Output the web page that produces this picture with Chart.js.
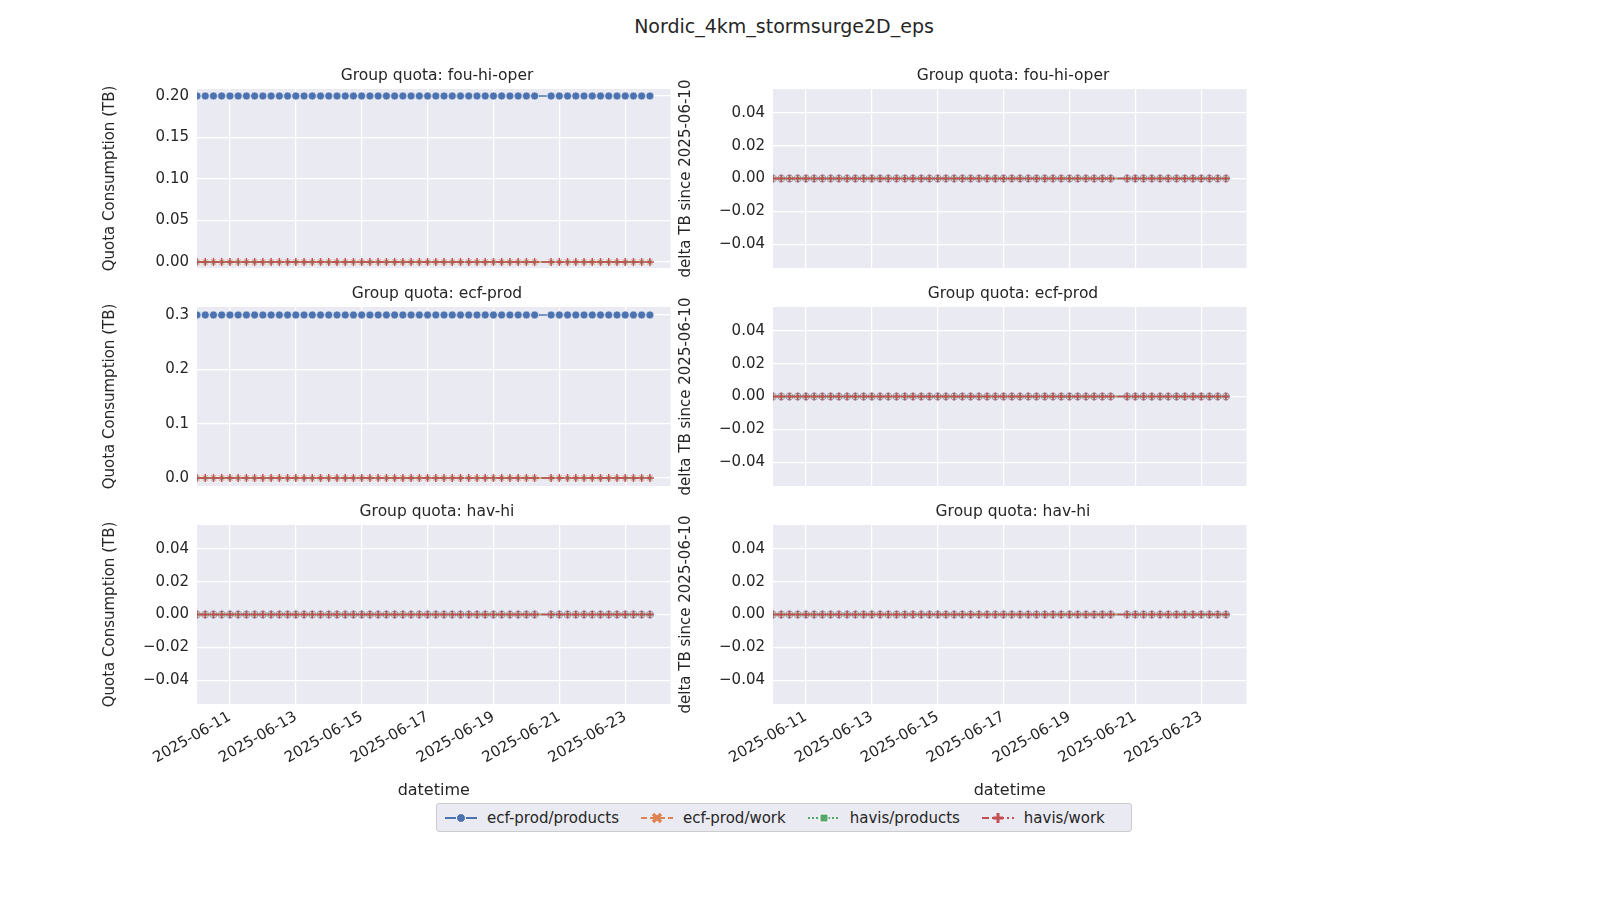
<!DOCTYPE html>
<html><head><meta charset="utf-8">
<script src="https://cdn.jsdelivr.net/npm/chart.js@4"></script>
<style>
html,body{margin:0;width:1600px;height:900px;overflow:hidden}
body{background:#fff;font-family:"DejaVu Sans",sans-serif;color:#262626;position:relative}
canvas{position:absolute}
.t{position:absolute;font-size:15.5px;text-align:center;width:480px;white-space:nowrap}
#main{position:absolute;top:15px;left:0;width:1568px;text-align:center;font-size:19px}
#leg{position:absolute;left:436px;top:803px;width:694px;height:27px;border:1px solid #ccc;border-radius:3px;background:#EAEAF2;display:flex;align-items:center;font-size:15px;white-space:nowrap}
#leg span{display:flex;align-items:center;margin-left:8px;margin-right:14px}
#leg svg{margin-right:10px}
</style></head><body>
<div id="main">Nordic_4km_stormsurge2D_eps</div>
<div id="leg">
<span><svg width="32" height="14"><line x1="0" y1="7" x2="32" y2="7" stroke="#4C72B0" stroke-width="2"/><circle cx="16" cy="7" r="4.5" fill="#4C72B0" stroke="#fff"/></svg>ecf-prod/products</span>
<span><svg width="32" height="14"><line x1="0" y1="7" x2="32" y2="7" stroke="#DD8452" stroke-width="2" stroke-dasharray="6,3"/><path d="M12 3 L20 11 M20 3 L12 11" stroke="#DD8452" stroke-width="3.5"/></svg>ecf-prod/work</span>
<span><svg width="32" height="14"><line x1="0" y1="7" x2="32" y2="7" stroke="#55A868" stroke-width="2" stroke-dasharray="2,2"/><rect x="12" y="3" width="8" height="8" fill="#55A868" stroke="#fff"/></svg>havis/products</span>
<span><svg width="32" height="14"><line x1="0" y1="7" x2="32" y2="7" stroke="#C44E52" stroke-width="2" stroke-dasharray="7,3,2,3"/><path d="M16 2 L16 12 M11 7 L21 7" stroke="#C44E52" stroke-width="3"/></svg>havis/work</span>
</div>
<script>
// hours since 2025-06-10 00:00, every 6 h (one sample missing on 06-20)
const hours = [0,6,12,18,24,30,36,42,48,54,60,66,72,78,84,90,96,102,108,114,120,126,132,138,144,150,156,162,168,174,180,186,192,198,204,210,216,222,228,234,240,246,258,264,270,276,282,288,294,300,306,312,318,324,330];
const seriesNames = ['ecf-prod/products','ecf-prod/work','havis/products','havis/work'];
// constant level per panel, per series
const foiLevels = [0.2, 0, 0, 0];
const ecfLevels = [0.3, 0, 0, 0];
const havLevels = [0, 0, 0, 0];
const deltaLevels = [0, 0, 0, 0];
const dayTicks = [24,72,120,168,216,264,312];

const colors = ['#4C72B0','#DD8452','#55A868','#C44E52'];
const styles = [
  {pointStyle:'circle',radius:4,dash:[]},
  {pointStyle:'crossRot',radius:3.5,dash:[6,3]},
  {pointStyle:'rect',radius:3,dash:[2,2]},
  {pointStyle:'cross',radius:4,dash:[7,3,2,3]}
];
function fmt(h){const d=10+Math.round(h/24);return '2025-06-'+String(d).padStart(2,'0');}

function panel(left, top, levels, ymin, ymax, ystep, ytitle, bottom, title){
  const c=document.createElement('canvas');
  const W=(676-197)+100, H=179+30+(bottom?100:30);
  c.width=W;c.height=H;c.style.width=W+'px';c.style.height=H+'px';
  c.style.left=(left-100)+'px';c.style.top=(top-30)+'px';
  document.body.appendChild(c);
  const t=document.createElement('div');t.className='t';t.textContent=title;
  t.style.left=left+'px';t.style.top=(top-23)+'px';document.body.appendChild(t);
  const datasets=levels.map((v,i)=>({
    label:seriesNames[i],
    data:hours.map(h=>({x:h,y:v})),
    borderColor:colors[i],backgroundColor:colors[i],
    borderWidth:1.5,borderDash:styles[i].dash,
    pointStyle:styles[i].pointStyle,pointRadius:styles[i].radius,
    pointBorderColor:i==0||i==2?'#fff':colors[i],pointBorderWidth:i==0||i==2?0.6:1.5,
    order:4-i
  }));
  new Chart(c,{type:'line',data:{datasets},options:{
    responsive:false,animation:false,devicePixelRatio:1,
    layout:{padding:{top:30,bottom:bottom?0:30,left:0,right:0}},
    plugins:{legend:{display:false},tooltip:{enabled:false}},
    scales:{
      x:{type:'linear',min:0,max:345,
        afterBuildTicks:s=>{s.ticks=dayTicks.map(v=>({value:v}));},
        afterFit:s=>{s.height=bottom?100:0;},
        grid:{color:'#fff',lineWidth:1.2,drawTicks:false},border:{display:false},
        ticks:{display:bottom,minRotation:30,maxRotation:30,color:'#262626',font:{family:'DejaVu Sans',size:15},padding:4,callback:v=>fmt(v)},
        title:{display:bottom,text:'datetime',color:'#262626',font:{family:'DejaVu Sans',size:16},padding:{top:0}}},
      y:{min:ymin,max:ymax,
        afterBuildTicks:s=>{const a=[];for(let v=Math.ceil(ymin/ystep-1e-9)*ystep;v<=ymax+1e-9;v+=ystep)a.push({value:+v.toFixed(4)});s.ticks=a;},
        afterFit:s=>{s.width=100;},
        grid:{color:'#fff',lineWidth:1.2,drawTicks:false},border:{display:false},
        ticks:{color:'#262626',font:{family:'DejaVu Sans',size:15},padding:8,
          callback:v=>{const d=ystep<0.1?2:1;const s=Math.abs(v).toFixed(d);return (v<-1e-9?'\u2212':'')+s;}},
        title:{display:true,text:ytitle,color:'#262626',font:{family:'DejaVu Sans',size:15},padding:{bottom:4}}}
    }},
    plugins:[{id:'bg',beforeDraw:ch=>{const a=ch.chartArea,x=ch.ctx;x.save();x.fillStyle='#EAEAF2';x.fillRect(a.left,a.top,a.right-a.left,a.bottom-a.top);x.restore();}}]
  });
}
const QT='Quota Consumption (TB)', DT='delta TB since 2025-06-10';
panel(197,89,foiLevels,-0.0072,0.2084,0.05,QT,false,'Group quota: fou-hi-oper');
panel(773,89,deltaLevels,-0.0545,0.0545,0.02,DT,false,'Group quota: fou-hi-oper');
panel(197,307,ecfLevels,-0.0146,0.3146,0.1,QT,false,'Group quota: ecf-prod');
panel(773,307,deltaLevels,-0.0545,0.0545,0.02,DT,false,'Group quota: ecf-prod');
panel(197,525,havLevels,-0.0545,0.0545,0.02,QT,true,'Group quota: hav-hi');
panel(773,525,deltaLevels,-0.0545,0.0545,0.02,DT,true,'Group quota: hav-hi');
</script>
</body></html>
